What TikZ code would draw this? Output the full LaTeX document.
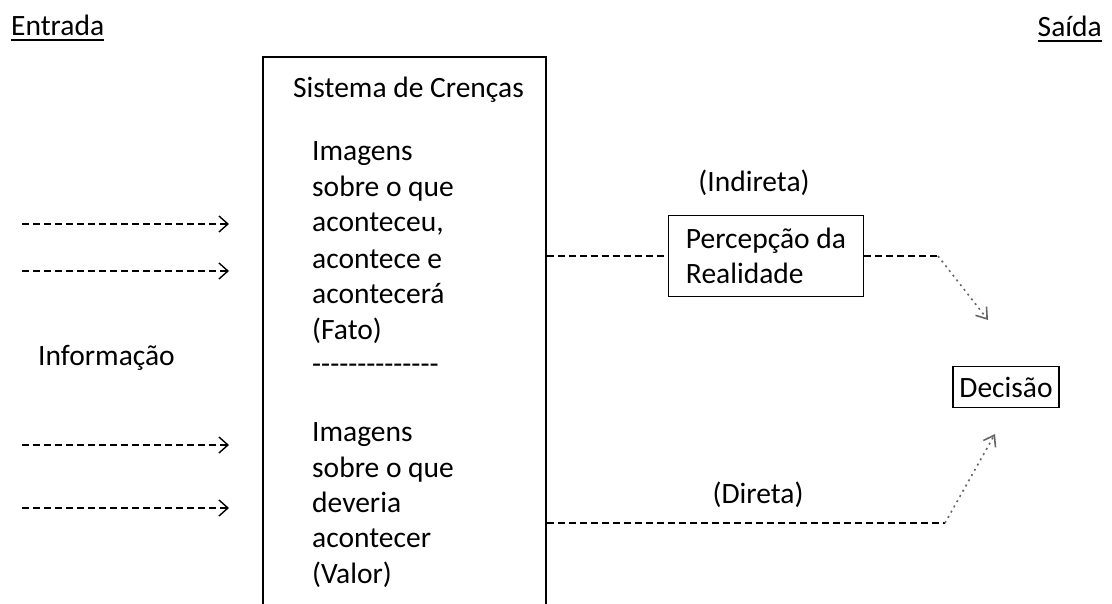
\documentclass[tikz,border=0pt]{standalone}
\usepackage{fontspec}
\setmainfont{Carlito}
\newcommand{\sublinha}[1]{\setbox0=\hbox{#1}\rlap{\rule[-5pt]{\wd0}{1.6pt}}\box0}
\usetikzlibrary{arrows.meta,positioning}
\tikzset{
    %Define standard arrow tip
    >={Straight Barb[length=9pt,width=16pt,line width=1.4pt]},
    %Define style for boxes
    caixa/.style={
           rectangle,
           draw=black, line width=1.6pt,
           align=left,
           font=\fontsize{29.5}{35}\selectfont},
    %Define style for texts
    texto/.style={
           inner sep=0pt,
           anchor=base west,
           align=left,
           font=\fontsize{29.5}{36}\selectfont},
    % Define line styles
    entrada/.style={
           ->,
           line width=1.3pt,
           dash pattern=on 7pt off 4pt},
    ligacao/.style={
           line width=1.3pt,
           dash pattern=on 7pt off 4pt},
    seta/.style={
           -{Straight Barb[length=10pt,width=14pt,line width=1.6pt]},
           black!60, line width=1.6pt,
           dash pattern=on 2pt off 4pt}
}

\begin{document}
\begin{tikzpicture}[x=1pt,y=-1pt]
\useasboundingbox (0,0) rectangle (1112,604);
\clip (0,0) rectangle (1112,604);

\node[texto] (entradatxt) at (11,36) {\sublinha{Entrada}};
\node[texto, anchor=base east] (saidatxt) at (1102,37) {\sublinha{Saída}};

\node[caixa, minimum width=283, minimum height=580, anchor=north west] (crencas) at (262,56) {};
\node[texto] (titulo) at (293,98) {Sistema de Crenças};
% base = last line
\node[texto] (fato) at (312,340) {Imagens\\sobre o que\\aconteceu,\\acontece e\\acontecerá\\(Fato)};
\node[texto] (separador) at (312,373) {-{}-{}-{}-{}-{}-{}-{}-{}-{}-{}-{}-{}-{}-};
\node[texto, font=\fontsize{29.5}{35.3}\selectfont] (valor) at (312,583) {Imagens\\sobre o que\\deveria\\acontecer\\(Valor)};

\node[texto] (informacao) at (38,365) {Informação};

\node[caixa, minimum width=195, minimum height=81] (perc) at (766,256) {Percepção da\\Realidade};
\node[texto, anchor=base] (indireta) at (754,192) {(Indireta)};
\node[texto, anchor=base] (direta) at (758,503) {(Direta)};
\node[caixa, minimum width=106, minimum height=41] (dec) at (1006,387) {Decisão};

\coordinate (e1) at (22,224);
\coordinate (s1) at (229,224);
\coordinate (e2) at (22,271);
\coordinate (s2) at (229,271);
\coordinate (e3) at (22,445);
\coordinate (s3) at (229,445);
\coordinate (e4) at (22,508);
\coordinate (s4) at (229,508);
\coordinate (cantoA) at (938,256);
\coordinate (pontaA) at (988,320);
\coordinate (cantoB) at (945,523);
\coordinate (pontaB) at (995,434);

\draw[entrada] (e1) -- (s1);
\draw[entrada] (e2) -- (s2);
\draw[entrada] (e3) -- (s3);
\draw[entrada] (e4) -- (s4);

\draw[ligacao] (crencas.east |- perc.west) -- (perc.west);
\draw[ligacao] (perc.east) -- (cantoA);
\draw[seta] (cantoA) -- (pontaA);

\draw[ligacao] (crencas.east |- cantoB) -- (cantoB);
\draw[seta] (cantoB) -- (pontaB);

\end{tikzpicture}
\end{document}
